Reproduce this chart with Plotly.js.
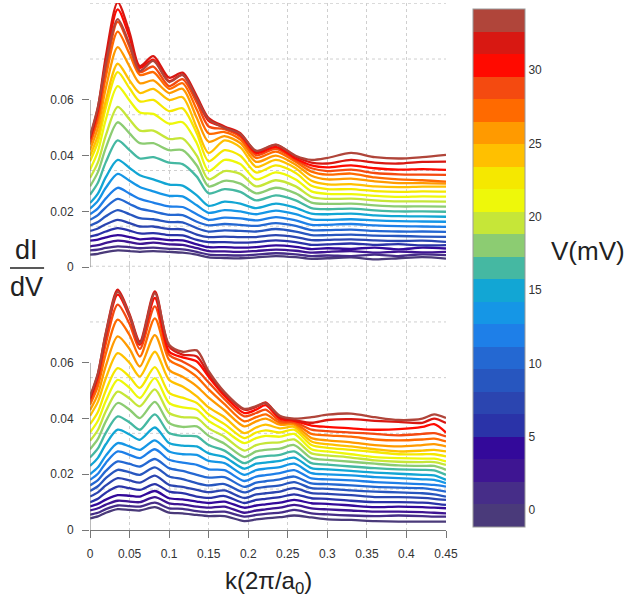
<!DOCTYPE html>
<html><head><meta charset="utf-8">
<script src="https://cdn.plot.ly/plotly-3.0.1.min.js"></script>
<style>html,body{margin:0;padding:0;background:#fff}#chart{width:632px;height:607px}</style>
</head><body><div id="chart"></div>
<script>
// ---- data ----
const kTop = [0, 0.01, 0.02, 0.035, 0.05, 0.063, 0.08, 0.1, 0.117, 0.135, 0.15, 0.17, 0.19, 0.21, 0.235, 0.26, 0.28, 0.3, 0.33, 0.36, 0.39, 0.42, 0.45];
const kBottom = [0, 0.01, 0.02, 0.035, 0.05, 0.063, 0.082, 0.1, 0.117, 0.135, 0.15, 0.17, 0.195, 0.21, 0.222, 0.24, 0.258, 0.28, 0.3, 0.33, 0.36, 0.39, 0.42, 0.435, 0.45];
const voltages = [-0.38, 1.15, 2.69, 4.22, 5.76, 7.29, 8.83, 10.36, 11.90, 13.43, 14.97, 16.50, 18.04, 19.57, 21.11, 22.64, 24.18, 25.71, 27.25, 28.78, 30.32, 31.85, 33.39];
const colorbarTicks = [0, 5, 10, 15, 20, 25, 30];
const xTicks = [0, 0.05, 0.1, 0.15, 0.2, 0.25, 0.3, 0.35, 0.4, 0.45];
const yTicks = [0, 0.02, 0.04, 0.06];
const gridY = [0.0147, 0.0347, 0.0547, 0.0747, 0.0947];

const topCurves = [
[0.0045,0.0048,0.0054,0.0060,0.0058,0.0055,0.0058,0.0055,0.0052,0.0045,0.0035,0.0033,0.0032,0.0035,0.0040,0.0036,0.0030,0.0032,0.0035,0.0028,0.0032,0.0036,0.0031],
[0.0060,0.0063,0.0069,0.0075,0.0072,0.0068,0.0070,0.0066,0.0064,0.0055,0.0045,0.0043,0.0042,0.0045,0.0050,0.0046,0.0040,0.0042,0.0040,0.0045,0.0040,0.0046,0.0043],
[0.0075,0.0079,0.0087,0.0095,0.0090,0.0084,0.0088,0.0082,0.0080,0.0068,0.0058,0.0057,0.0055,0.0058,0.0063,0.0059,0.0052,0.0055,0.0058,0.0052,0.0056,0.0053,0.0055],
[0.0095,0.0099,0.0107,0.0115,0.0108,0.0100,0.0103,0.0097,0.0096,0.0082,0.0072,0.0072,0.0070,0.0072,0.0078,0.0073,0.0065,0.0068,0.0066,0.0070,0.0064,0.0070,0.0067],
[0.0110,0.0117,0.0128,0.0140,0.0131,0.0121,0.0122,0.0115,0.0114,0.0098,0.0090,0.0090,0.0088,0.0090,0.0096,0.0090,0.0080,0.0082,0.0085,0.0080,0.0083,0.0078,0.0079],
[0.0130,0.0139,0.0154,0.0170,0.0158,0.0146,0.0146,0.0137,0.0136,0.0117,0.0108,0.0110,0.0108,0.0108,0.0115,0.0108,0.0097,0.0098,0.0100,0.0096,0.0094,0.0095,0.0091],
[0.0150,0.0162,0.0183,0.0205,0.0190,0.0176,0.0172,0.0162,0.0161,0.0140,0.0128,0.0132,0.0130,0.0128,0.0137,0.0128,0.0115,0.0115,0.0117,0.0113,0.0112,0.0110,0.0109],
[0.0170,0.0187,0.0215,0.0245,0.0227,0.0210,0.0200,0.0188,0.0187,0.0163,0.0150,0.0155,0.0152,0.0148,0.0158,0.0148,0.0133,0.0133,0.0135,0.0130,0.0128,0.0128,0.0127],
[0.0190,0.0211,0.0247,0.0285,0.0264,0.0245,0.0232,0.0218,0.0216,0.0190,0.0170,0.0178,0.0175,0.0168,0.0180,0.0168,0.0152,0.0152,0.0155,0.0150,0.0147,0.0146,0.0145],
[0.0210,0.0238,0.0285,0.0335,0.0310,0.0288,0.0272,0.0256,0.0254,0.0222,0.0195,0.0205,0.0200,0.0190,0.0203,0.0190,0.0172,0.0170,0.0172,0.0168,0.0165,0.0164,0.0163],
[0.0230,0.0264,0.0323,0.0385,0.0356,0.0330,0.0315,0.0296,0.0293,0.0258,0.0220,0.0235,0.0228,0.0212,0.0228,0.0213,0.0192,0.0190,0.0192,0.0186,0.0183,0.0182,0.0181],
[0.0260,0.0303,0.0377,0.0455,0.0420,0.0390,0.0395,0.0375,0.0370,0.0325,0.0265,0.0280,0.0270,0.0240,0.0258,0.0240,0.0212,0.0208,0.0210,0.0204,0.0200,0.0200,0.0199],
[0.0290,0.0341,0.0428,0.0520,0.0480,0.0445,0.0445,0.0420,0.0420,0.0365,0.0290,0.0310,0.0300,0.0265,0.0285,0.0265,0.0232,0.0227,0.0228,0.0222,0.0218,0.0218,0.0217],
[0.0320,0.0376,0.0473,0.0575,0.0530,0.0490,0.0490,0.0460,0.0462,0.0400,0.0315,0.0345,0.0335,0.0290,0.0312,0.0290,0.0252,0.0245,0.0246,0.0240,0.0236,0.0236,0.0235],
[0.0350,0.0416,0.0530,0.0650,0.0598,0.0555,0.0550,0.0515,0.0520,0.0445,0.0345,0.0385,0.0370,0.0315,0.0340,0.0315,0.0272,0.0263,0.0262,0.0256,0.0252,0.0254,0.0253],
[0.0380,0.0450,0.0572,0.0700,0.0642,0.0595,0.0600,0.0560,0.0570,0.0480,0.0380,0.0420,0.0400,0.0340,0.0365,0.0338,0.0292,0.0280,0.0280,0.0273,0.0270,0.0272,0.0271],
[0.0400,0.0473,0.0598,0.0730,0.0670,0.0625,0.0640,0.0600,0.0610,0.0500,0.0410,0.0455,0.0430,0.0360,0.0385,0.0355,0.0310,0.0297,0.0298,0.0290,0.0287,0.0289,0.0289],
[0.0420,0.0501,0.0642,0.0790,0.0720,0.0660,0.0670,0.0625,0.0640,0.0535,0.0450,0.0470,0.0445,0.0378,0.0400,0.0368,0.0328,0.0315,0.0318,0.0308,0.0302,0.0302,0.0300],
[0.0440,0.0529,0.0683,0.0845,0.0765,0.0690,0.0700,0.0640,0.0660,0.0565,0.0480,0.0485,0.0458,0.0392,0.0415,0.0378,0.0343,0.0332,0.0336,0.0322,0.0315,0.0312,0.0307],
[0.0450,0.0545,0.0708,0.0880,0.0790,0.0700,0.0720,0.0650,0.0675,0.0590,0.0505,0.0495,0.0468,0.0402,0.0425,0.0385,0.0355,0.0345,0.0350,0.0338,0.0333,0.0332,0.0331],
[0.0460,0.0562,0.0739,0.0925,0.0825,0.0715,0.0745,0.0668,0.0690,0.0605,0.0525,0.0502,0.0475,0.0410,0.0432,0.0390,0.0365,0.0358,0.0365,0.0355,0.0350,0.0352,0.0349],
[0.0465,0.0572,0.0756,0.0950,0.0842,0.0722,0.0757,0.0680,0.0698,0.0613,0.0535,0.0505,0.0481,0.0415,0.0439,0.0397,0.0375,0.0372,0.0385,0.0375,0.0372,0.0378,0.0379],
[0.0470,0.0575,0.0730,0.0890,0.0800,0.0705,0.0740,0.0665,0.0690,0.0605,0.0530,0.0500,0.0478,0.0418,0.0440,0.0400,0.0385,0.0392,0.0410,0.0395,0.0390,0.0395,0.0403]
];

const bottomCurves = [
[0.0042,0.0049,0.0062,0.0075,0.0072,0.0070,0.0082,0.0062,0.0060,0.0054,0.0050,0.0050,0.0032,0.0038,0.0042,0.0046,0.0052,0.0045,0.0038,0.0036,0.0032,0.0030,0.0030,0.0030,0.0030],
[0.0055,0.0062,0.0075,0.0088,0.0086,0.0084,0.0098,0.0078,0.0076,0.0068,0.0064,0.0066,0.0048,0.0054,0.0058,0.0062,0.0072,0.0060,0.0056,0.0052,0.0050,0.0052,0.0050,0.0048,0.0048],
[0.0070,0.0078,0.0091,0.0105,0.0102,0.0100,0.0118,0.0096,0.0092,0.0084,0.0080,0.0084,0.0062,0.0070,0.0074,0.0080,0.0090,0.0078,0.0074,0.0070,0.0066,0.0066,0.0064,0.0062,0.0060],
[0.0085,0.0094,0.0109,0.0125,0.0123,0.0120,0.0140,0.0114,0.0110,0.0102,0.0097,0.0102,0.0080,0.0088,0.0092,0.0098,0.0108,0.0096,0.0094,0.0088,0.0082,0.0084,0.0082,0.0080,0.0078],
[0.0100,0.0112,0.0134,0.0156,0.0150,0.0144,0.0165,0.0138,0.0132,0.0120,0.0115,0.0122,0.0097,0.0108,0.0112,0.0118,0.0128,0.0114,0.0112,0.0105,0.0100,0.0100,0.0098,0.0095,0.0090],
[0.0120,0.0135,0.0160,0.0186,0.0178,0.0170,0.0195,0.0162,0.0155,0.0144,0.0136,0.0142,0.0115,0.0128,0.0132,0.0138,0.0150,0.0132,0.0130,0.0125,0.0118,0.0118,0.0115,0.0112,0.0108],
[0.0140,0.0157,0.0186,0.0216,0.0207,0.0198,0.0225,0.0192,0.0183,0.0168,0.0160,0.0165,0.0135,0.0150,0.0155,0.0160,0.0172,0.0150,0.0148,0.0142,0.0138,0.0135,0.0132,0.0128,0.0120],
[0.0160,0.0179,0.0212,0.0246,0.0237,0.0228,0.0255,0.0222,0.0212,0.0198,0.0188,0.0190,0.0155,0.0170,0.0175,0.0182,0.0192,0.0167,0.0165,0.0160,0.0155,0.0152,0.0150,0.0145,0.0138],
[0.0180,0.0202,0.0241,0.0282,0.0270,0.0258,0.0290,0.0252,0.0242,0.0234,0.0218,0.0215,0.0176,0.0192,0.0197,0.0204,0.0215,0.0185,0.0182,0.0178,0.0172,0.0168,0.0165,0.0162,0.0156],
[0.0200,0.0225,0.0267,0.0312,0.0300,0.0288,0.0322,0.0282,0.0272,0.0270,0.0248,0.0240,0.0198,0.0215,0.0220,0.0226,0.0238,0.0204,0.0200,0.0196,0.0190,0.0186,0.0182,0.0180,0.0168],
[0.0230,0.0259,0.0308,0.0360,0.0343,0.0324,0.0368,0.0312,0.0303,0.0300,0.0275,0.0262,0.0220,0.0238,0.0242,0.0248,0.0260,0.0222,0.0218,0.0212,0.0206,0.0202,0.0198,0.0196,0.0180],
[0.0260,0.0293,0.0349,0.0408,0.0386,0.0360,0.0415,0.0348,0.0338,0.0336,0.0305,0.0285,0.0240,0.0260,0.0265,0.0270,0.0282,0.0240,0.0235,0.0228,0.0222,0.0218,0.0216,0.0214,0.0198],
[0.0290,0.0327,0.0390,0.0456,0.0432,0.0402,0.0460,0.0384,0.0370,0.0372,0.0338,0.0310,0.0262,0.0282,0.0288,0.0292,0.0305,0.0258,0.0252,0.0245,0.0238,0.0232,0.0230,0.0230,0.0216],
[0.0320,0.0359,0.0426,0.0497,0.0472,0.0444,0.0505,0.0420,0.0405,0.0402,0.0365,0.0335,0.0285,0.0305,0.0312,0.0315,0.0325,0.0275,0.0268,0.0260,0.0250,0.0245,0.0244,0.0244,0.0234],
[0.0350,0.0392,0.0463,0.0539,0.0510,0.0474,0.0545,0.0456,0.0440,0.0432,0.0392,0.0358,0.0312,0.0330,0.0338,0.0335,0.0345,0.0290,0.0282,0.0272,0.0262,0.0258,0.0256,0.0256,0.0246],
[0.0380,0.0424,0.0501,0.0581,0.0550,0.0510,0.0585,0.0492,0.0475,0.0456,0.0415,0.0380,0.0330,0.0350,0.0358,0.0350,0.0360,0.0305,0.0295,0.0288,0.0280,0.0272,0.0272,0.0272,0.0264],
[0.0410,0.0460,0.0545,0.0635,0.0600,0.0551,0.0640,0.0539,0.0515,0.0480,0.0440,0.0405,0.0348,0.0368,0.0378,0.0365,0.0370,0.0318,0.0308,0.0300,0.0290,0.0282,0.0285,0.0288,0.0282],
[0.0430,0.0488,0.0589,0.0695,0.0650,0.0587,0.0700,0.0575,0.0550,0.0516,0.0475,0.0430,0.0372,0.0390,0.0400,0.0378,0.0378,0.0330,0.0322,0.0315,0.0305,0.0300,0.0305,0.0308,0.0300],
[0.0450,0.0517,0.0633,0.0755,0.0700,0.0623,0.0760,0.0611,0.0585,0.0550,0.0505,0.0452,0.0390,0.0405,0.0415,0.0385,0.0384,0.0345,0.0340,0.0335,0.0325,0.0322,0.0325,0.0328,0.0318],
[0.0460,0.0537,0.0669,0.0809,0.0740,0.0650,0.0803,0.0629,0.0605,0.0575,0.0530,0.0470,0.0408,0.0420,0.0432,0.0392,0.0388,0.0360,0.0355,0.0350,0.0345,0.0340,0.0345,0.0348,0.0336],
[0.0470,0.0553,0.0695,0.0845,0.0765,0.0665,0.0833,0.0641,0.0620,0.0605,0.0550,0.0482,0.0420,0.0432,0.0448,0.0400,0.0392,0.0375,0.0370,0.0365,0.0360,0.0362,0.0370,0.0380,0.0350],
[0.0475,0.0560,0.0708,0.0863,0.0775,0.0677,0.0857,0.0659,0.0630,0.0623,0.0560,0.0490,0.0432,0.0442,0.0458,0.0405,0.0395,0.0385,0.0395,0.0398,0.0392,0.0388,0.0385,0.0400,0.0384],
[0.0480,0.0563,0.0705,0.0855,0.0770,0.0670,0.0850,0.0665,0.0640,0.0645,0.0570,0.0495,0.0435,0.0445,0.0455,0.0410,0.0400,0.0405,0.0414,0.0418,0.0405,0.0395,0.0400,0.0415,0.0402]
];

// ---- styles ----
const bandColors = ['#4a3a7a','#462d88','#3e1592','#33099a','#2a33a8','#2b45b0','#2756bf','#2468d2','#1e7fe8','#1596e6','#12a6d4','#45b8a2','#8ccc72','#c6e638','#eef80a','#f5e800','#ffc000','#ff9a00','#ff6a00','#f44a10','#ff0a00','#d81812','#b0453a'];
const cmin = -1.15, cmax = 34.15;
const nb = bandColors.length;
const colorscale = [];
bandColors.forEach((c, i) => { colorscale.push([i / nb, c]); colorscale.push([(i + 1) / nb, c]); });
function colorFor(v) {
  let idx = Math.floor((v - cmin) / (cmax - cmin) * nb);
  idx = Math.max(0, Math.min(nb - 1, idx));
  return bandColors[idx];
}

const traces = [];
voltages.forEach((v, i) => {
  traces.push({x: kTop, y: topCurves[i], xaxis: 'x', yaxis: 'y', type: 'scatter', mode: 'lines',
    line: {color: colorFor(v), width: 2.3, shape: 'spline', smoothing: 0.8}, hoverinfo: 'skip'});
});
voltages.forEach((v, i) => {
  traces.push({x: kBottom, y: bottomCurves[i], xaxis: 'x2', yaxis: 'y2', type: 'scatter', mode: 'lines',
    line: {color: colorFor(v), width: 2.3, shape: 'spline', smoothing: 0.8}, hoverinfo: 'skip'});
});
// colorbar carrier
traces.push({x: [0.2], y: [-1], xaxis: 'x2', yaxis: 'y2', type: 'scatter', mode: 'markers',
  marker: {size: 1, opacity: 0, color: [voltages[0]], cmin: cmin, cmax: cmax, colorscale: colorscale, showscale: true,
    colorbar: {x: 1.0758, xanchor: 'left', xpad: 0, ypad: 0, y: 0.497, yanchor: 'middle', len: 0.983, lenmode: 'fraction',
      thickness: 52, thicknessmode: 'pixels', outlinewidth: 1, outlinecolor: '#999', tickvals: colorbarTicks, ticks: '',
      tickfont: {size: 12, color: '#333'}}}, hoverinfo: 'skip', showlegend: false});

const shapes = [];
['y', 'y2'].forEach(ya => {
  gridY.forEach(g => shapes.push({type: 'line', xref: 'paper', x0: 0, x1: 1, yref: ya, y0: g, y1: g, layer: 'below',
    line: {color: '#cfcfcf', width: 1, dash: 'dot'}}));
  shapes.push({type: 'line', xref: ya === 'y' ? 'x' : 'x2', x0: 0, x1: 0, yref: ya, y0: yTicks[0], y1: yTicks[yTicks.length - 1],
    line: {color: '#777', width: 1}});
});
shapes.push({type: 'line', xref: 'paper', yref: 'paper', x0: -0.2247, x1: -0.129, y0: 0.497, y1: 0.497, line: {color: '#222', width: 1.5}});

const axisCommon = {range: [0, 0.45], tickvals: xTicks, showgrid: true, gridcolor: '#cfcfcf', griddash: 'dot', gridwidth: 1, zeroline: false};
const yCommon = {tickvals: yTicks, ticks: 'outside', ticklen: 7, tickcolor: '#777', showgrid: false, zeroline: false, showline: false,
  ticklabelstandoff: 6, tickfont: {size: 12, color: '#333'}};

const layout = {
  width: 632, height: 607,
  margin: {l: 90, r: 186, t: 3, b: 77},
  paper_bgcolor: '#fff', plot_bgcolor: 'rgba(0,0,0,0)',
  showlegend: false,
  font: {family: 'Liberation Sans, Arial, sans-serif', size: 12, color: '#333'},
  xaxis: Object.assign({}, axisCommon, {domain: [0, 1], anchor: 'y', showticklabels: false, ticks: '', showline: false}),
  yaxis: Object.assign({}, yCommon, {domain: [0.4934, 1], anchor: 'x', range: [-0.001, 0.0948]}),
  xaxis2: Object.assign({}, axisCommon, {domain: [0, 1], anchor: 'y2', ticks: 'outside', ticklen: 7, tickcolor: '#777',
    showline: true, linecolor: '#777', linewidth: 1, ticklabelstandoff: 6, tickfont: {size: 12, color: '#333'}}),
  yaxis2: Object.assign({}, yCommon, {domain: [0, 0.5047], anchor: 'x2', range: [0, 0.0955]}),
  shapes: shapes,
  annotations: [
    {text: 'dI', xref: 'paper', yref: 'paper', x: -0.177, y: 0.531, xanchor: 'center', yanchor: 'middle', showarrow: false,
      font: {size: 27, color: '#222'}},
    {text: 'dV', xref: 'paper', yref: 'paper', x: -0.177, y: 0.461, xanchor: 'center', yanchor: 'middle', showarrow: false,
      font: {size: 27, color: '#222'}},
    {text: 'k(2π/a<sub>0</sub>)', xref: 'paper', yref: 'paper', x: 0.5, y: -0.1, xanchor: 'center', yanchor: 'middle', showarrow: false,
      font: {size: 24, color: '#222'}},
    {text: 'V(mV)', xref: 'paper', yref: 'paper', x: 1.40, y: 0.53, xanchor: 'center', yanchor: 'middle', showarrow: false,
      font: {size: 26, color: '#222'}}
  ]
};

Plotly.newPlot('chart', traces, layout, {staticPlot: true, displayModeBar: false});
</script>
</body></html>
